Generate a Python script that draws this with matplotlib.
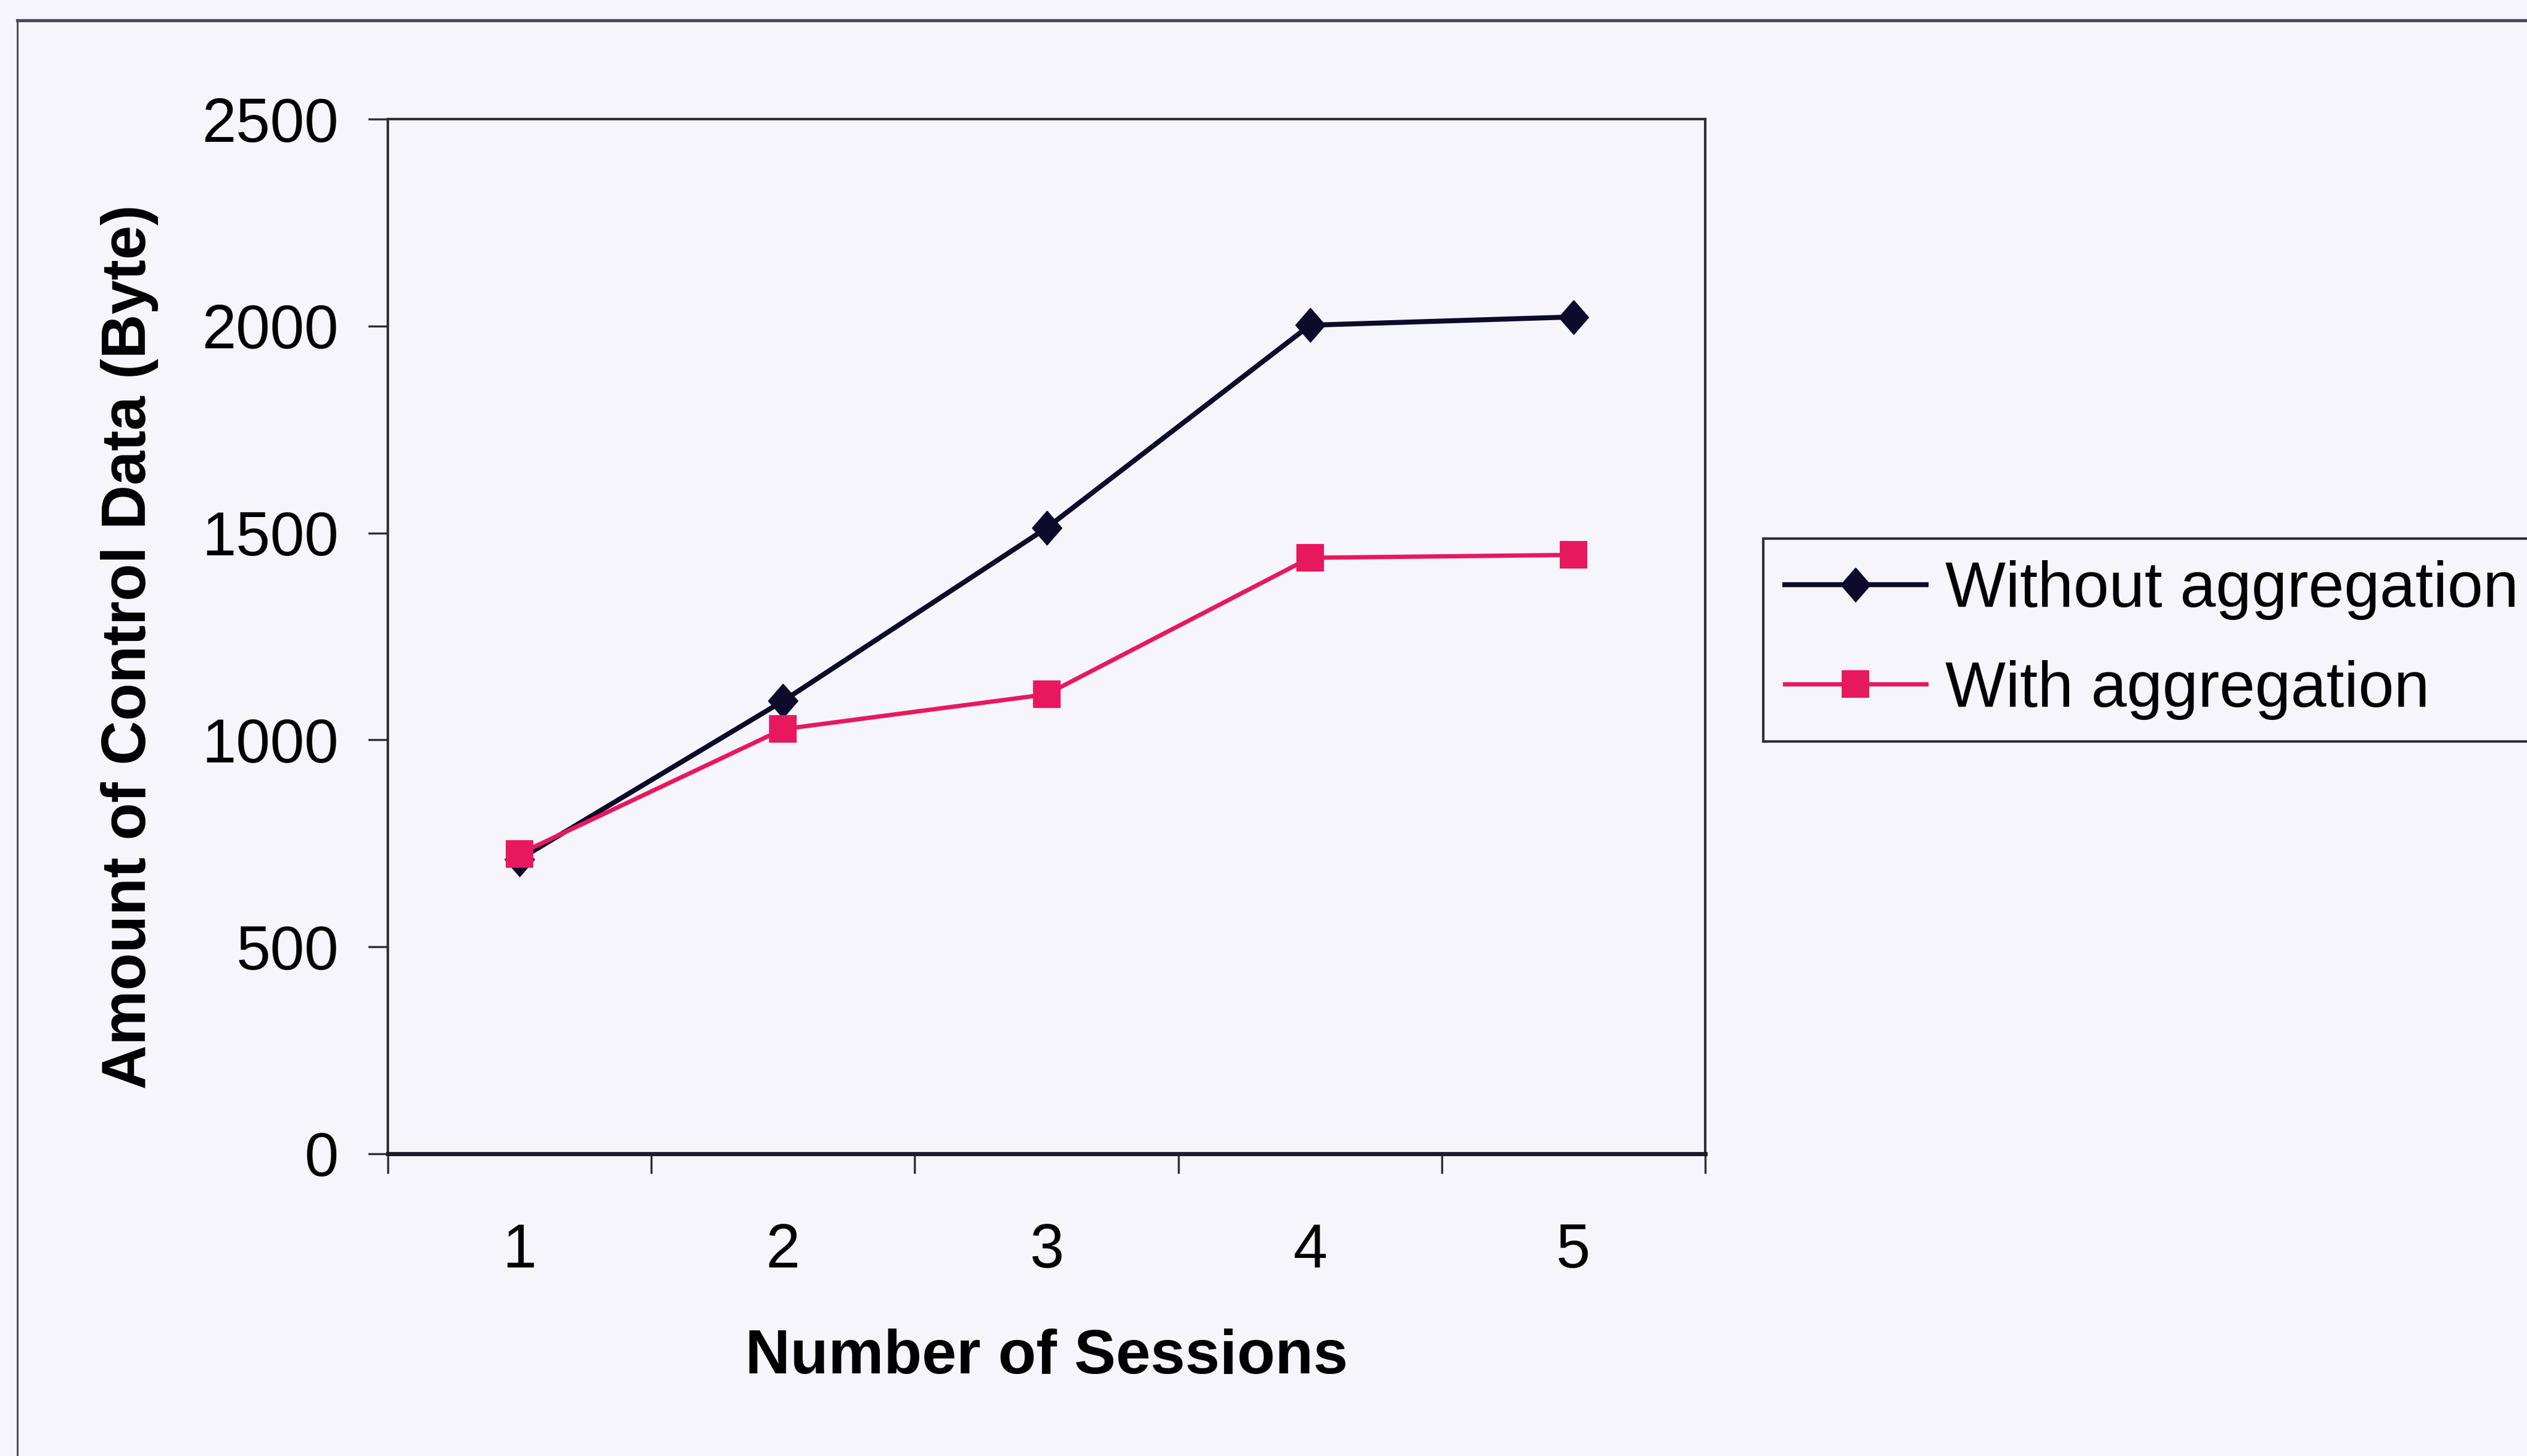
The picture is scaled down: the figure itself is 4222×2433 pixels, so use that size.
import matplotlib
matplotlib.use("Agg")
import matplotlib.pyplot as plt
from matplotlib.lines import Line2D

# ---- data -------------------------------------------------------------
sessions = ["1", "2", "3", "4", "5"]
without_aggregation = [712, 1094, 1512, 2002, 2022]
with_aggregation = [725, 1026, 1110, 1440, 1447]
y_ticks = [0, 500, 1000, 1500, 2000, 2500]

series_labels = ["Without aggregation", "With aggregation"]

# ---- style ------------------------------------------------------------
plt.rcParams["font.family"] = ["Liberation Sans", "DejaVu Sans"]
bg = "#f6f5fb"
navy = "#0c0b2c"
pink = "#e8185f"
frame = "#2e2e3a"

W, H = 4222, 2433
fig = plt.figure(figsize=(W / 100, H / 100), dpi=100)
fig.patch.set_facecolor(bg)

ax = fig.add_axes([648 / W, 1 - 1928 / H, 2201 / W, 1729 / H])
ax.set_facecolor(bg)

# tall diamond marker
diamond = [(0, 1.15), (1, 0), (0, -1.15), (-1, 0), (0, 1.15)]

ax.plot(sessions, without_aggregation, color=navy, lw=6.0,
        marker=diamond, ms=41, mfc=navy, mec=navy, mew=1,
        label=series_labels[0], zorder=3)
ax.plot(sessions, with_aggregation, color=pink, lw=5.2,
        marker="s", ms=32, mfc=pink, mec=pink, mew=1.5,
        label=series_labels[1], zorder=4)

# axes limits and ticks
n = len(sessions)
ax.set_xlim(-0.5, n - 0.5)
ax.set_ylim(y_ticks[0], y_ticks[-1])
ax.set_yticks(y_ticks)
ax.set_xticks(range(n))
ax.set_xticklabels(sessions)
ax.set_xticks([i - 0.5 for i in range(n + 1)], minor=True)

ax.tick_params(axis="y", direction="out", length=24, width=2.5,
               color=frame, pad=35, labelsize=74)
ax.tick_params(axis="x", which="major", length=0, pad=83, labelsize=74)
ax.tick_params(axis="x", which="minor", direction="out", length=24,
               width=2.5, color=frame)

for side in ["left", "right", "top"]:
    ax.spines[side].set_color(frame)
    ax.spines[side].set_linewidth(3.0)
ax.spines["bottom"].set_color("#1e1c2a")
ax.spines["bottom"].set_linewidth(5.0)

ax.set_xlabel("Number of Sessions", fontsize=75, fontweight="bold")
ax.set_ylabel("Amount of Control Data (Byte)", fontsize=74,
              fontweight="bold")
ax.xaxis.set_label_coords(0.5, -0.169)
ax.yaxis.set_label_coords(-0.174, 0.49)

# legend box to the right of the plot
leg = fig.legend(loc="upper left", bbox_to_anchor=(2946 / W, 1 - 900 / H),
                 borderaxespad=0, fontsize=77, handlelength=2.2,
                 handletextpad=0.3, borderpad=0.34, labelspacing=0.62,
                 numpoints=1, fancybox=False, framealpha=1)
leg.get_frame().set_facecolor(bg)
leg.get_frame().set_edgecolor(frame)
leg.get_frame().set_linewidth(3.0)

# outer chart border (left and top edges)
x0 = 29 / W
y_top = 1 - 34 / H
fig.add_artist(Line2D([x0, x0], [0, y_top], transform=fig.transFigure,
                      color="#4a4a56", lw=2.2))
fig.add_artist(Line2D([x0, 1], [y_top, y_top], transform=fig.transFigure,
                      color="#4a4a56", lw=3.8))

fig.savefig("out.png", dpi=100, facecolor=bg)
